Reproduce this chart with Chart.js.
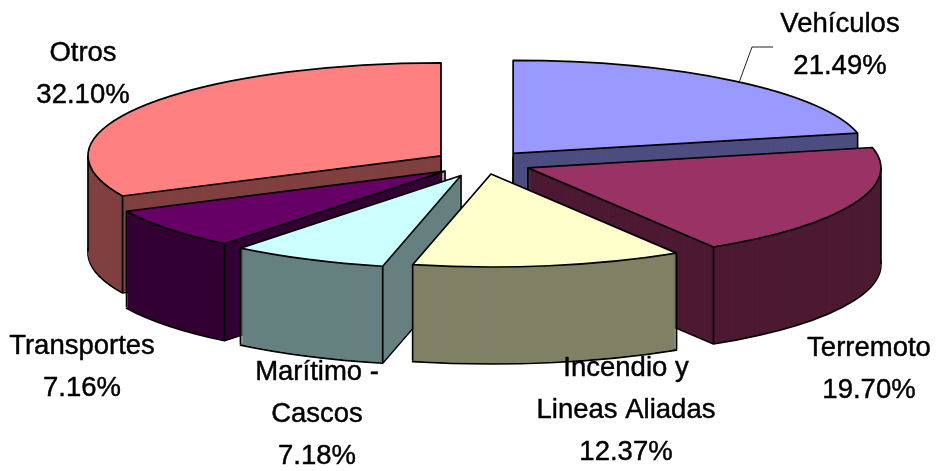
<!DOCTYPE html>
<html><head><meta charset="utf-8">
<style>html,body{margin:0;padding:0;background:#fff}canvas{display:block}</style>
<script src="https://cdn.jsdelivr.net/npm/chart.js@4"></script>
</head><body><canvas id="c" width="938" height="471"></canvas>
<script>
const categories = [["Vehículos"],["Terremoto"],["Incendio y","Lineas Aliadas"],["Marítimo -","Cascos"],["Transportes"],["Otros"]];
const values = [21.49,19.70,12.37,7.18,7.16,32.10];
const topColors = ["#9999FF","#993366","#FFFFCC","#CCFFFF","#660066","#FF8080"];
const wallColors = ["#4D4D80","#4D1A33","#808066","#668080","#330033","#804040"];
const drawOrder = [0,5,4,1,3,2];
const explode = [0.132,0.135,0.12,0.15,0.141,0.144];
const labelPos = [[840,24],[869,348],[626,368],[317,372],[82,346],[83,53]];
const lineGap = 42;
const centre = {x:484,y:163}, radiusX = 353, radiusY = 93, depth = 97;

const pie3d = {
  id:'pie3d',
  beforeDatasetsDraw(chart){
    const ctx = chart.ctx, arcs = chart.getDatasetMeta(0).data;
    const R = arcs[0].outerRadius, sx = radiusX/R, sy = radiusY/R;
    const place = (arc,i,dy)=>{
      const mid=(arc.startAngle+arc.endAngle)/2;
      const ox=Math.cos(mid)*explode[i]*radiusX, oy=Math.sin(mid)*explode[i]*radiusY;
      return {x:centre.x+ox,y:centre.y+oy+dy};
    };
    const pt=(arc,i,a,r)=>{const p=place(arc,i,0);return {x:p.x+Math.cos(a)*r*sx,y:p.y+Math.sin(a)*r*sy};};
    const paint=(arc,i,dy,color)=>{
      const p=place(arc,i,dy);
      ctx.save();ctx.translate(p.x,p.y);ctx.scale(sx,sy);ctx.translate(-arc.x,-arc.y);
      const view=Object.create(arc);
      view.options={backgroundColor:color,borderColor:color,borderWidth:0,borderAlign:'center',borderRadius:0,offset:0,spacing:0,circular:true,borderDash:[],borderDashOffset:0,borderJoinStyle:'round'};
      arc.draw.call(view,ctx);
      ctx.restore();
    };
    const outline=(arc,i,dy)=>{
      const p=place(arc,i,dy);
      ctx.save();ctx.translate(p.x,p.y);ctx.scale(sx,sy);ctx.translate(-arc.x,-arc.y);
      ctx.beginPath();ctx.moveTo(arc.x,arc.y);ctx.arc(arc.x,arc.y,R,arc.startAngle,arc.endAngle);ctx.closePath();
      ctx.restore();
      ctx.lineWidth=1.7;ctx.strokeStyle='#000';ctx.lineJoin='round';ctx.stroke();
    };
    const vline=(q)=>{ctx.beginPath();ctx.moveTo(q.x,q.y);ctx.lineTo(q.x,q.y+depth-1);ctx.lineWidth=1.7;ctx.strokeStyle='#000';ctx.stroke();};
    for(const i of drawOrder){
      const arc=arcs[i], s=arc.startAngle, e=arc.endAngle;
      paint(arc,i,depth,wallColors[i]);
      outline(arc,i,depth);
      for(let d=depth-1;d>0;d--) paint(arc,i,d,wallColors[i]);
      if(Math.sin(s)>0.001||-Math.cos(s)>0.001) vline(pt(arc,i,s,R));
      if(Math.sin(e)>0.001||Math.cos(e)>0.001) vline(pt(arc,i,e,R));
      const has=a=>{for(let k=-1;k<2;k++){const v=a+k*2*Math.PI;if(v>s&&v<e)return true;}return false;};
      if(!has(Math.PI/2)) vline(pt(arc,i,0,0));
      if(has(0)) vline(pt(arc,i,0,R));
      if(has(Math.PI)) vline(pt(arc,i,Math.PI,R));
      paint(arc,i,0,topColors[i]);
      outline(arc,i,0);
    }
    // leader for the first slice
    const a0=arcs[0], m=(a0.startAngle+a0.endAngle)/2+0.02, q=pt(a0,0,m,R);
    ctx.beginPath();ctx.moveTo(q.x,q.y);ctx.lineTo(752,47);ctx.lineTo(773,47);ctx.lineWidth=1;ctx.strokeStyle='#222';ctx.stroke();
    // labels
    ctx.fillStyle='#000';ctx.strokeStyle='#000';ctx.lineWidth=0.45;ctx.font='27.5px "Liberation Sans"';ctx.textAlign='center';ctx.textBaseline='middle';
    categories.forEach((lines,i)=>{
      const all=[...lines,values[i].toFixed(2)+'%'];
      all.forEach((t,k)=>{const y=labelPos[i][1]+k*lineGap;ctx.fillText(t,labelPos[i][0],y);ctx.strokeText(t,labelPos[i][0],y);});
    });
    return false;
  }
};
new Chart(document.getElementById('c'),{
  type:'pie',
  data:{labels:categories.map(l=>l.join(' ')),datasets:[{data:values,backgroundColor:topColors,borderWidth:0}]},
  options:{responsive:false,animation:false,plugins:{legend:{display:false},tooltip:{enabled:false}}},
  plugins:[pie3d]
});
</script></body></html>
